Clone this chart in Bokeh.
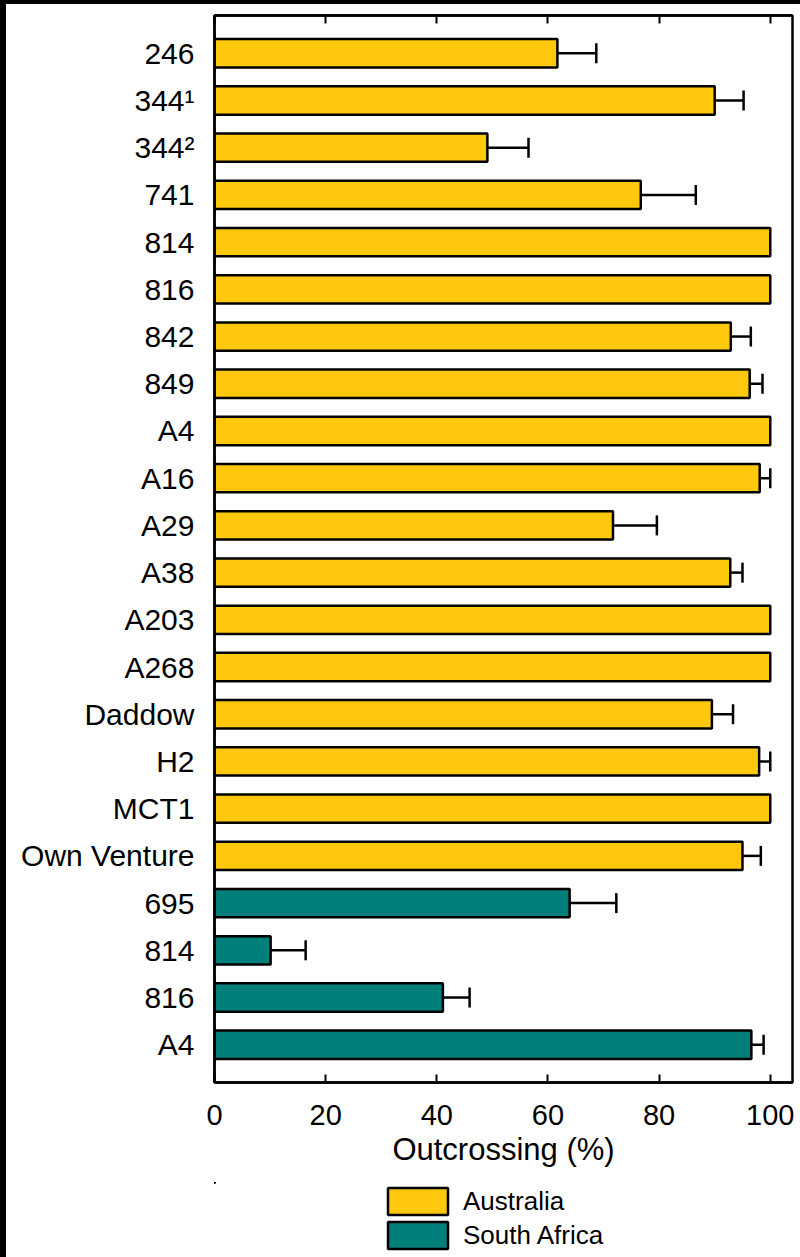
from bokeh.plotting import figure
from bokeh.models import (ColumnDataSource, Range1d, FixedTicker, LinearAxis,
                          Whisker, TeeHead, Legend, LegendItem)
from bokeh.layouts import column
from bokeh.embed import file_html
from bokeh.resources import INLINE

# ---- data ----
lines = ["246", "344\u00b9", "344\u00b2", "741", "814", "816", "842", "849", "A4",
         "A16", "A29", "A38", "A203", "A268", "Daddow", "H2", "MCT1",
         "Own Venture", "695", "814", "816", "A4"]
regions = ["Australia"] * 18 + ["South Africa"] * 4
outcrossing = [61.7, 90.0, 49.1, 76.7, 100, 100, 92.9, 96.3, 100,
               98.1, 71.7, 92.8, 100, 100, 89.5, 98.0, 100,
               95.0, 63.9, 10.1, 41.1, 96.6]
error = [7.0, 5.2, 7.4, 9.9, 0, 0, 3.6, 2.3, 0,
         1.9, 7.9, 2.2, 0, 0, 3.8, 2.0, 0,
         3.3, 8.4, 6.3, 4.8, 2.2]
x_ticks = [0, 20, 40, 60, 80, 100]
legend_labels = ["Australia", "South Africa"]

colors = {"Australia": "#FFC80C", "South Africa": "#017F7A"}
FONT = "Liberation Sans"

p = figure(frame_width=578, frame_height=1067,
           x_range=Range1d(0, 104), y_range=Range1d(len(lines) - 0.2, -0.8),
           output_backend="svg", toolbar_location=None,
           min_border_left=208, min_border_right=8,
           min_border_top=11, min_border_bottom=100)

sources = {}
for reg in legend_labels:
    idx = [i for i, r in enumerate(regions) if r == reg]
    sources[reg] = ColumnDataSource(dict(pos=idx, value=[outcrossing[i] for i in idx]))
    p.hbar(y="pos", left=0, right="value", height=0.6, source=sources[reg],
           fill_color=colors[reg], line_color="black", line_width=2.5)

eidx = [i for i in range(len(lines)) if error[i] > 0]
esrc = ColumnDataSource(dict(pos=eidx,
                             lo=[outcrossing[i] for i in eidx],
                             hi=[outcrossing[i] + error[i] for i in eidx]))
wh = Whisker(source=esrc, base="pos", lower="lo", upper="hi", dimension="width",
             line_color="black", line_width=2.5, lower_head=None,
             upper_head=TeeHead(size=20, line_width=2.5, line_color="black"),
             level="overlay")
p.add_layout(wh)

p.grid.visible = False
p.outline_line_color = "black"
p.outline_line_width = 2.5
p.outline_line_alpha = 1.0

xa = p.xaxis[0]
xa.ticker = FixedTicker(ticks=x_ticks)
xa.major_tick_in = 8
xa.major_tick_out = 0
xa.minor_tick_in = 0
xa.minor_tick_out = 0
xa.major_tick_line_width = 2
xa.axis_line_width = 2.5
xa.major_label_standoff = 22
xa.major_label_text_font = FONT
xa.major_label_text_font_size = "29px"
xa.major_label_text_color = "black"
xa.axis_label = "Outcrossing (%)"
xa.axis_label_text_font = FONT
xa.axis_label_text_font_size = "31px"
xa.axis_label_text_font_style = "normal"
xa.axis_label_text_color = "black"
xa.axis_label_standoff = 4

ya = p.yaxis[0]
ya.ticker = FixedTicker(ticks=list(range(len(lines))))
ya.major_label_overrides = {i: name for i, name in enumerate(lines)}
ya.major_tick_in = 0
ya.major_tick_out = 0
ya.minor_tick_in = 0
ya.minor_tick_out = 0
ya.axis_line_width = 2.5
ya.major_label_standoff = 20
ya.major_label_text_font = FONT
ya.major_label_text_font_size = "30px"
ya.major_label_text_color = "black"

top = LinearAxis(ticker=FixedTicker(ticks=x_ticks), major_tick_in=8, major_tick_out=0,
                 minor_tick_in=0, minor_tick_out=0, major_tick_line_width=2,
                 axis_line_width=2.5, major_label_text_font_size="1px",
                 major_label_text_color=None, major_label_standoff=0)
p.add_layout(top, "above")

# ---- legend strip below the chart (its bars lie outside its own x and y ranges) ----
lg = figure(frame_width=578, frame_height=75, x_range=Range1d(200, 300), y_range=Range1d(-100, -99),
            output_backend="svg", toolbar_location=None,
            x_axis_type=None, y_axis_type=None,
            min_border_left=208, min_border_right=8, min_border_top=0, min_border_bottom=0)
lg.grid.visible = False
lg.outline_line_color = None
items = []
for reg in legend_labels:
    r = lg.hbar(y="pos", left=0, right="value", height=0.6, source=sources[reg],
                fill_color=colors[reg], line_color="black", line_width=2.5)
    items.append(LegendItem(label=reg, renderers=[r]))

legend = Legend(items=items, location=(166, 5), orientation="vertical",
                label_text_font=FONT, label_text_font_size="26px", label_text_color="black",
                glyph_width=75, glyph_height=34, spacing=-4, padding=0, margin=0,
                label_standoff=8, border_line_color=None, background_fill_alpha=0)
lg.add_layout(legend)

layout = column(p, lg, spacing=0,
                styles={"background-color": "white",
                        "border-left": "6px solid black", "border-top": "4px solid black"})

open("out.html", "w").write(file_html(layout, INLINE))
